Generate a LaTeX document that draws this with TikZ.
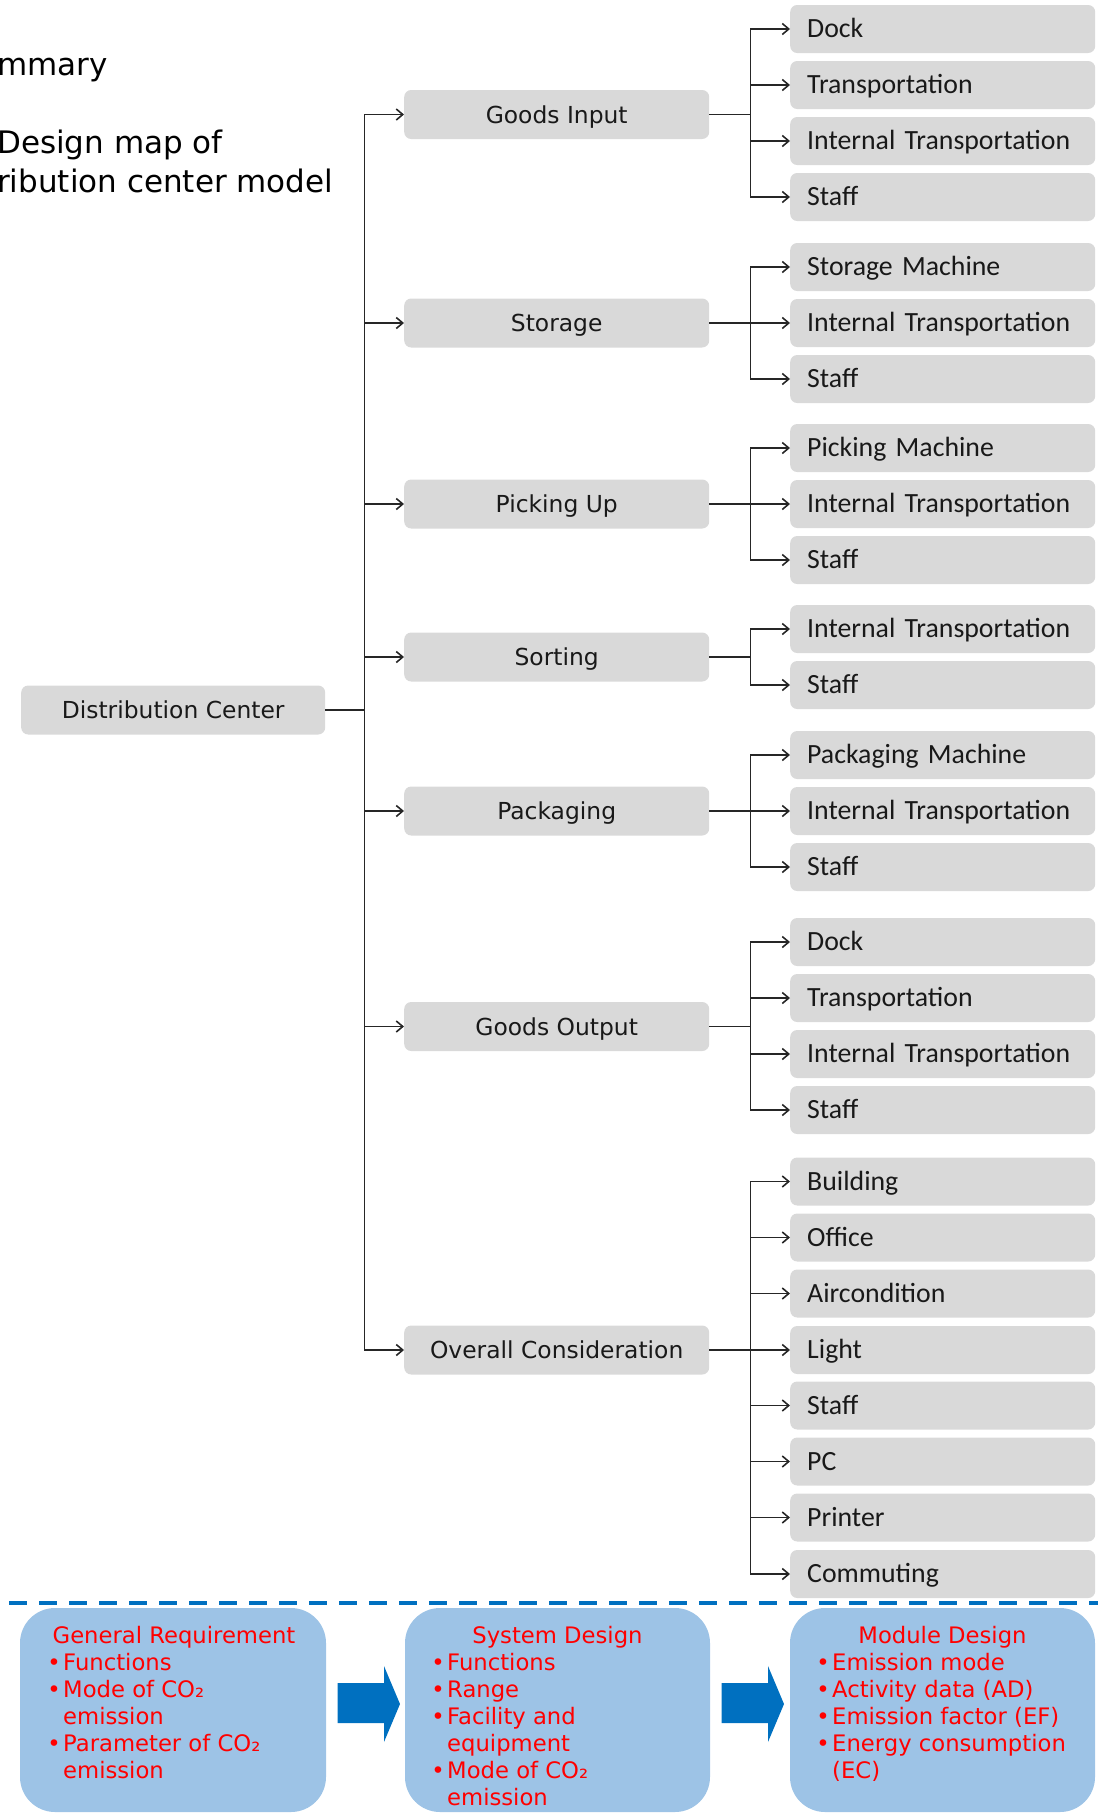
\documentclass[tikz,border=0pt]{standalone}
\usepackage{fontspec}
\setmainfont{DejaVu Sans}
\newfontfamily\leaffont{Carlito}
\usetikzlibrary{arrows.meta}
\definecolor{boxgray}{HTML}{D9D9D9}
\definecolor{paleblue}{HTML}{9DC3E6}
\definecolor{deepblue}{HTML}{0070C0}
\definecolor{inkred}{HTML}{FF0000}

\begin{document}
\begin{tikzpicture}[x=1pt,y=-1pt,
  wire/.style={line width=1.7pt, draw=black!85},
  arr/.style={wire, -{Straight Barb[length=6.5pt,width=11pt,line width=1.6pt]}},
  leaf/.style={rectangle, rounded corners=7pt, fill=boxgray, anchor=west,
    inner xsep=17pt, inner ysep=0pt, text width=271pt, align=left,
    minimum height=48pt, text height=17.9pt, text depth=0pt,
    font=\leaffont\fontsize{27.8}{30}\selectfont, text=black!90},
  stage/.style={rectangle, rounded corners=7pt, fill=boxgray, anchor=west,
    inner sep=0pt, minimum width=305pt, minimum height=49pt,
    text height=17.1pt, text depth=0pt,
    font=\fontsize{23.4}{26}\selectfont, text=black!90},
  headline/.style={anchor=base west, inner sep=0pt, font=\fontsize{31}{36}\selectfont},
  redline/.style={anchor=base west, inner sep=0pt, text=inkred, font=\fontsize{22.7}{27}\selectfont},
  redtitle/.style={redline, anchor=base},
  dot/.style={redline, anchor=base}
]
\useasboundingbox (0,0) rectangle (1098,1813);

% heading text at the left edge
\node[headline] (h1) at (-3,75) {mmary};
\node[headline] (h2) at (-3,153) {Design map of};
\node[headline] (h3) at (-3,192) {ribution center model};

% root and stages
\node[stage, minimum width=304pt] (root) at (21,710) {Distribution Center};
\foreach \n/\y/\t in {gi/114.5/Goods Input, st/323/Storage, pu/504/Picking Up,
  so/657/Sorting, pk/811/Packaging, go/1026.5/Goods Output, oc/1350/Overall Consideration}
  \node[stage] (\n) at (404,\y) {\t};

% leaves
\foreach \n/\y/\t in {
  a1/29/Dock, a2/85/Transportation, a3/141/Internal Transportation, a4/197/Staff,
  b1/267/Storage Machine, b2/323/Internal Transportation, b3/379/Staff,
  c1/448/Picking Machine, c2/504/Internal Transportation, c3/560/Staff,
  d1/629/Internal Transportation, d2/685/Staff,
  e1/755/Packaging Machine, e2/811/Internal Transportation, e3/867/Staff,
  f1/942/Dock, f2/998/Transportation, f3/1054/Internal Transportation, f4/1110/Staff,
  g1/1181.5/Building, g2/1237.5/Office, g3/1293.5/Aircondition, g4/1350/Light,
  g5/1405.5/Staff, g6/1461.5/PC, g7/1517.5/Printer, g8/1574/Commuting}
  \node[leaf] (\n) at (790,\y) {\t};

% root to stages
\foreach \m in {gi,st,pu,so,pk,go,oc}
  \draw[arr] (root.east) -- ++(39,0) |- (\m.west);

% stages to leaves
\foreach \m/\l in {gi/a1,gi/a2,gi/a3,gi/a4, st/b1,st/b2,st/b3, pu/c1,pu/c2,pu/c3,
  so/d1,so/d2, pk/e1,pk/e2,pk/e3, go/f1,go/f2,go/f3,go/f4,
  oc/g1,oc/g2,oc/g3,oc/g4,oc/g5,oc/g6,oc/g7,oc/g8}
  \draw[arr] (\m.east) -- ++(41,0) |- (\l.west);

% separator
\draw[deepblue, line width=3.5pt, dash pattern=on 18pt off 12pt] (9,1603) -- (1098,1603);

% design phase panels
\fill[paleblue, rounded corners=35pt] (20,1608) rectangle (326,1812);
\fill[paleblue, rounded corners=35pt] (405,1608) rectangle (710,1812);
\fill[paleblue, rounded corners=35pt] (790,1608) rectangle (1095,1812);

% block arrows between panels
\fill[deepblue] (337.5,1683) -- (384,1683) -- (384,1666) -- (400,1704) -- (384,1742) -- (384,1723) -- (337.5,1723) -- cycle;
\fill[deepblue] (721.5,1683) -- (768,1683) -- (768,1666) -- (784,1704) -- (768,1742) -- (768,1723) -- (721.5,1723) -- cycle;

% panel 1
\node[redtitle] (p1t) at (174,1643) {General Requirement};
\node[dot] (p1d1) at (54,1670) {•};
\node[redline] (p1l1) at (63,1670) {Functions};
\node[dot] (p1d2) at (54,1697) {•};
\node[redline] (p1l2) at (63,1697) {Mode of CO₂};
\node[redline] (p1l3) at (63,1724) {emission};
\node[dot] (p1d4) at (54,1751) {•};
\node[redline] (p1l4) at (63,1751) {Parameter of CO₂};
\node[redline] (p1l5) at (63,1778) {emission};

% panel 2
\node[redtitle] (p2t) at (557.5,1643) {System Design};
\node[dot] (p2d1) at (438,1670) {•};
\node[redline] (p2l1) at (447,1670) {Functions};
\node[dot] (p2d2) at (438,1697) {•};
\node[redline] (p2l2) at (447,1697) {Range};
\node[dot] (p2d3) at (438,1724) {•};
\node[redline] (p2l3) at (447,1724) {Facility and};
\node[redline] (p2l4) at (447,1751) {equipment};
\node[dot] (p2d5) at (438,1778) {•};
\node[redline] (p2l5) at (447,1778) {Mode of CO₂};
\node[redline] (p2l6) at (447,1805) {emission};

% panel 3
\node[redtitle] (p3t) at (942.5,1643) {Module Design};
\node[dot] (p3d1) at (823,1670) {•};
\node[redline] (p3l1) at (832,1670) {Emission mode};
\node[dot] (p3d2) at (823,1697) {•};
\node[redline] (p3l2) at (832,1697) {Activity data (AD)};
\node[dot] (p3d3) at (823,1724) {•};
\node[redline] (p3l3) at (832,1724) {Emission factor (EF)};
\node[dot] (p3d4) at (823,1751) {•};
\node[redline] (p3l4) at (832,1751) {Energy consumption};
\node[redline] (p3l5) at (832,1778) {(EC)};
\end{tikzpicture}
\end{document}
